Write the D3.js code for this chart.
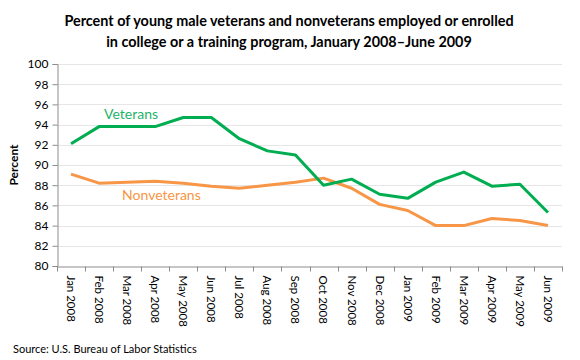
<!DOCTYPE html>
<html><head><meta charset="utf-8">
<script src="https://cdn.jsdelivr.net/npm/d3@7"></script>
<style>body{margin:0;background:#fff}svg{display:block}</style>
</head><body><svg id="c" width="580" height="360"></svg>
<script>
const months = ["Jan 2008","Feb 2008","Mar 2008","Apr 2008","May 2008","Jun 2008","Jul 2008","Aug 2008","Sep 2008","Oct 2008","Nov 2008","Dec 2008","Jan 2009","Feb 2009","Mar 2009","Apr 2009","May 2009","Jun 2009"];
const veterans = [92.1,93.8,93.8,93.8,94.7,94.7,92.6,91.4,91.0,88.0,88.6,87.1,86.7,88.3,89.3,87.9,88.1,85.3];
const nonveterans = [89.1,88.2,88.3,88.4,88.2,87.9,87.7,88.0,88.3,88.7,87.7,86.1,85.5,84.0,84.0,84.7,84.5,84.0];
const yTicks = [80,82,84,86,88,90,92,94,96,98,100];
const titleLines = ["Percent of young male veterans and nonveterans employed or enrolled","in college or a training program, January 2008\u2013June 2009"];
const source = "Source: U.S. Bureau of Labor Statistics";

const font = "Lato, 'Open Sans', sans-serif";
const svg = d3.select("#c");
const m = {l:57, r:18, t:64, b:94};
const W = 580, H = 360;
const x = d3.scaleBand().domain(months).range([m.l, W - m.r]);
const y = d3.scaleLinear().domain([80,100]).range([H - m.b, m.t]);

// gridlines
svg.append("g").selectAll("line").data(yTicks.slice(1)).join("line")
  .attr("x1", m.l).attr("x2", W - m.r)
  .attr("y1", d => Math.round(y(d)) + 0.5).attr("y2", d => Math.round(y(d)) + 0.5)
  .attr("stroke", "#e6e6e6").attr("stroke-width", 1);

// y axis
const ya = svg.append("g").attr("transform", `translate(${m.l + 0.5},0)`)
  .call(d3.axisLeft(y).tickValues(yTicks).tickSize(5).tickPadding(4));
ya.select(".domain").attr("stroke", "#8c8c8c");
ya.selectAll(".tick line").attr("stroke", "#8c8c8c");
ya.selectAll("text").attr("font-family", font).attr("font-size", 12).attr("fill", "#000");

// x axis
const xa = svg.append("g").attr("transform", `translate(0,${Math.round(y(80)) + 0.5})`)
  .call(d3.axisBottom(x).tickSize(0).tickPadding(0));
xa.select(".domain").attr("stroke", "#8c8c8c");
xa.selectAll(".tick text")
  .attr("font-family", font).attr("font-size", 11.5).attr("fill", "#000")
  .attr("transform", "rotate(90)").attr("text-anchor", "start")
  .attr("x", 9).attr("y", 0).attr("dy", "0.35em");
// boundary ticks
const bounds = months.map(d => x(d)).concat([x(months[months.length-1]) + x.bandwidth()]);
xa.append("g").selectAll("line").data(bounds).join("line")
  .attr("x1", d => Math.round(d) + 0.5).attr("x2", d => Math.round(d) + 0.5)
  .attr("y1", 0).attr("y2", 5).attr("stroke", "#8c8c8c");

// lines
const line = d3.line().x((d,i) => x(months[i]) + x.bandwidth()/2).y(d => y(d));
svg.append("path").datum(nonveterans).attr("d", line).attr("fill","none")
  .attr("stroke", "#f79646").attr("stroke-width", 3).attr("stroke-linejoin","round");
svg.append("path").datum(veterans).attr("d", line).attr("fill","none")
  .attr("stroke", "#00ad50").attr("stroke-width", 3).attr("stroke-linejoin","round");

// series labels
svg.append("text").attr("x", x(months[1]) + 19).attr("y", y(94.7) + 1)
  .attr("font-family", font).attr("font-size", 14).attr("fill", "#1fb36b").text("Veterans");
svg.append("text").attr("x", x(months[2]) + 9).attr("y", y(86.7) + 2)
  .attr("font-family", font).attr("font-size", 14).attr("fill", "#f79646").text("Nonveterans");

// y label
svg.append("text").attr("transform", `translate(18,${(y(80)+y(100))/2}) rotate(-90)`)
  .attr("text-anchor","middle").attr("font-family", font).attr("font-weight","bold")
  .attr("font-size", 12).text("Percent");

// title
svg.append("g").selectAll("text").data(titleLines).join("text")
  .attr("x", 289).attr("y", (d,i) => 26 + i*21).attr("text-anchor","middle")
  .attr("font-family", font).attr("font-weight","bold").attr("font-size", 14.4)
  .attr("fill","#000").text(d => d);

// source
svg.append("text").attr("x", 13).attr("y", 353).attr("font-family", font)
  .attr("font-size", 11).attr("fill","#000").text(source);
</script></body></html>
